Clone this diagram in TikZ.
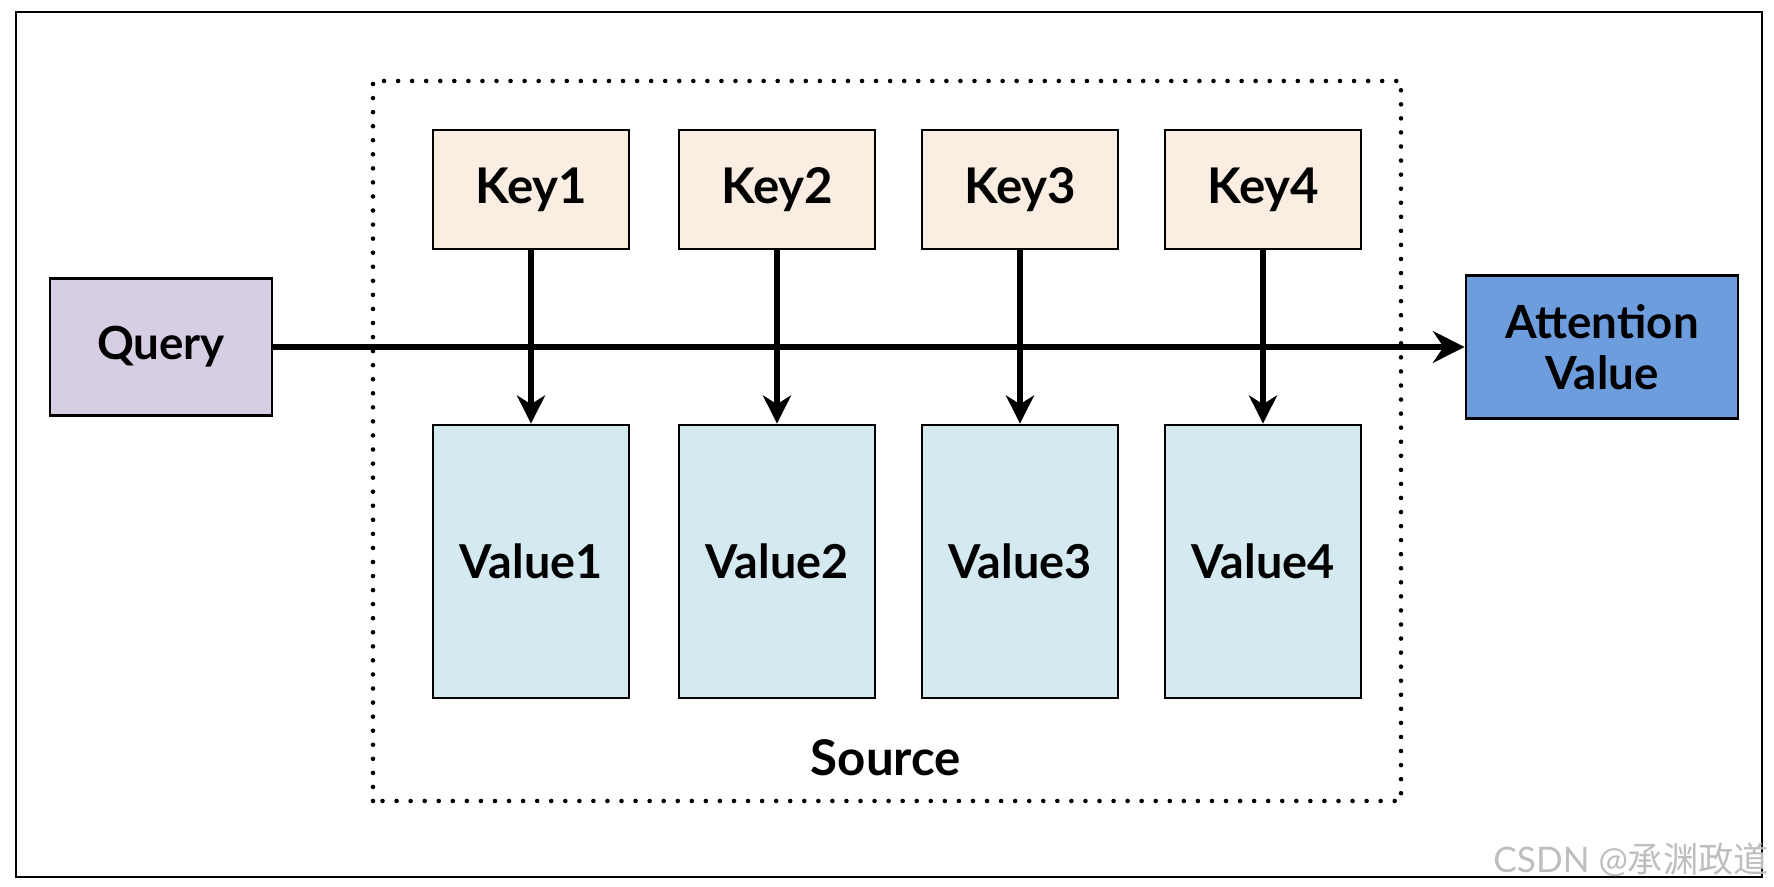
\documentclass[tikz,border=0pt]{standalone}
\usepackage{fontspec}
\setmainfont{Lato}
\newfontfamily\cjkfont{Noto Sans CJK SC}
\usepackage{xcolor}
\usetikzlibrary{arrows.meta}

\definecolor{queryfill}{RGB}{216,206,228}
\definecolor{keyfill}{RGB}{250,237,225}
\definecolor{valuefill}{RGB}{212,234,240}
\definecolor{attfill}{RGB}{110,157,222}
\definecolor{markgray}{RGB}{190,190,190}

\tikzset{
	box/.style={draw=black, line width=0.8pt, inner sep=0pt, align=center,
		font=\bfseries\fontsize{14}{16}\selectfont},
	keybox/.style={box, fill=keyfill, minimum width=1.96cm, minimum height=1.19cm},
	valbox/.style={box, fill=valuefill, minimum width=1.96cm, minimum height=2.73cm,
		font=\bfseries\fontsize{13.3}{16}\selectfont},
	querybox/.style={box, fill=queryfill, minimum width=2.22cm, minimum height=1.37cm,
		font=\bfseries\fontsize{13}{15}\selectfont},
	attbox/.style={box, fill=attfill, minimum width=2.72cm, minimum height=1.43cm,
		font=\bfseries\fontsize{13}{14.5}\selectfont},
	flow/.style={line width=1.5pt, -{Stealth[length=8pt, width=8pt, inset=2.5pt]}},
	dotline/.style={line width=1.3pt, dash pattern=on 0pt off 4pt, line cap=round}
}

\begin{document}
\begin{tikzpicture}
	\useasboundingbox (0,0) rectangle (17.74,8.87);
	% Outer frame
	\draw[line width=0.8pt] (0.16,0.10) rectangle (17.62,8.75);
	% Source region
	\draw[dotline] (3.73,0.86) rectangle (14.01,8.06);
	\node[font=\bfseries\fontsize{14}{16}\selectfont] (source) at (8.86,1.29) {Source};
	% Keys and values
	\foreach \i/\x in {1/5.31, 2/7.77, 3/10.20, 4/12.63}{
		\node[keybox] (key\i) at (\x,6.975) {Key\i};
		\node[valbox] (val\i) at (\x,3.255) {Value\i};
	}
	\node[querybox] (query) at (1.61,5.40) {Query};
	\node[attbox] (att) at (16.02,5.40) {Attention\\Value};
	% Arrows
	\draw[flow, -{Stealth[length=9pt, width=9pt, inset=3pt]}] (query) -- (att);
	\foreach \i in {1,...,4}
		\draw[flow] (key\i) -- (val\i);
	% Watermark
	\node[text=markgray, font=\fontsize{10}{12}\selectfont] (mark) at (16.31,0.27) {CSDN @{\cjkfont 承渊政道}};
\end{tikzpicture}
\end{document}
